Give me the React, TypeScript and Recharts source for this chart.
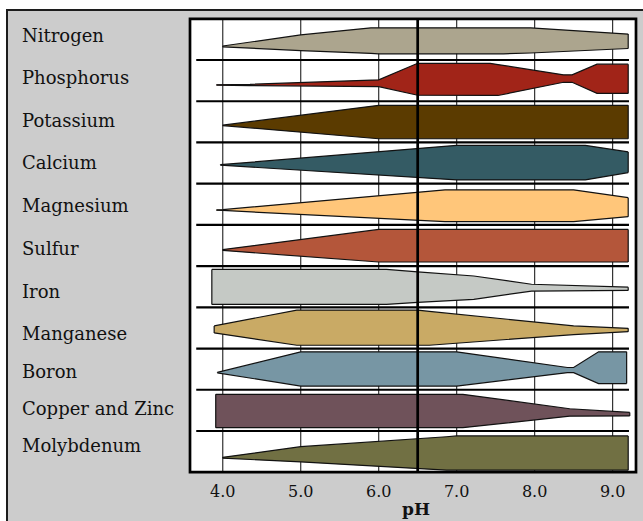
import {
  ComposedChart,
  Area,
  XAxis,
  YAxis,
  CartesianGrid,
  ReferenceLine,
  ReferenceArea,
} from "recharts";

const nutrients = [
  "Nitrogen",
  "Phosphorus",
  "Potassium",
  "Calcium",
  "Magnesium",
  "Sulfur",
  "Iron",
  "Manganese",
  "Boron",
  "Copper and Zinc",
  "Molybdenum",
];

const phTicks = [4, 5, 6, 7, 8, 9];
const optimumPh = 6.5;

// [pH, top edge, bottom edge] - edges in tenths of a row, measured from the row's top
const nitrogen = [[4.0, 6.6, 6.8], [5.0, 3.9, 7.7], [5.9, 2.2, 8.4], [6.0, 2.2, 8.5], [7.6, 2.2, 8.5], [7.95, 2.2, 8.3], [9.2, 3.7, 7.2]];
const phosphorus = [[3.92, 6.0, 6.1], [4.35, 5.9, 6.2], [6.0, 4.8, 6.45], [6.5, 0.8, 8.55], [7.43, 0.8, 8.6], [7.53, 1.1, 8.6], [8.37, 3.6, 5.4], [8.48, 3.6, 5.4], [8.8, 1.0, 8.1], [9.2, 1.0, 8.1]];
const potassium = [[4.0, 5.8, 5.9], [6.0, 1.0, 9.1], [9.2, 1.0, 9.1]];
const calcium = [[3.97, 5.4, 5.5], [7.0, 0.7, 9.1], [8.65, 0.7, 9.1], [9.2, 2.3, 7.3]];
const magnesium = [[3.92, 6.35, 6.45], [4.0, 6.3, 6.5], [6.85, 1.5, 9.2], [8.5, 1.5, 9.2], [9.2, 3.4, 8.0]];
const sulfur = [[4.0, 6.0, 6.2], [6.0, 1.1, 9.0], [9.2, 1.1, 9.0]];
const iron = [[3.86, 0.8, 9.3], [6.1, 0.8, 9.3], [6.5, 1.4, 8.8], [7.22, 2.4, 8.05], [7.96, 4.4, 6.05], [9.2, 5.1, 5.9]];
const manganese = [[3.89, 4.5, 6.2], [4.95, 0.66, 9.2], [6.5, 0.66, 9.2], [6.65, 1.0, 9.2], [8.5, 4.5, 6.6], [9.2, 5.1, 5.9]];
const boron = [[3.93, 5.8, 5.9], [5.0, 0.8, 9.1], [7.0, 0.8, 9.1], [8.42, 4.6, 5.85], [8.5, 4.6, 5.85], [8.82, 0.8, 8.5], [9.18, 0.8, 8.5]];
const copperZinc = [[3.91, 1.1, 9.2], [7.08, 1.1, 9.2], [8.45, 4.6, 6.4], [9.22, 5.5, 6.35]];
const molybdenum = [[4.0, 6.4, 6.6], [5.0, 3.8, 7.5], [6.87, 1.4, 9.5], [7.0, 1.2, 9.5], [9.2, 1.2, 9.5]];

const profiles = [nitrogen, phosphorus, potassium, calcium, magnesium, sulfur, iron, manganese, boron, copperZinc, molybdenum];

const fills = [
  "#aca58e",
  "#a12418",
  "#5b3b00",
  "#345b64",
  "#ffc67a",
  "#b4563a",
  "#c5c9c5",
  "#c9aa65",
  "#7796a4",
  "#6f525a",
  "#717043",
];

// small nudges so the row names sit where the original put them
const labelDy = [3, 3, 5, 6, 7.5, 9, 11.6, 12, 9, 4.6, 0];

const ROW = 10;
const series = profiles.map((pts, i) =>
  pts.map(([ph, top, bottom]) => ({ ph, band: [i * ROW + top, i * ROW + bottom] }))
);
const rowCenters = nutrients.map((_, i) => i * ROW + ROW / 2);
const separators = nutrients.slice(1).map((_, i) => (i + 1) * ROW);

const SERIF = "'DejaVu Serif', serif";

const RowLabel = (props: any) => {
  const { y, payload } = props;
  const i = Math.floor(payload.value / ROW);
  return (
    <text x={22} y={y + labelDy[i]} fontFamily={SERIF} fontSize={18} fill="#111">
      {nutrients[i]}
    </text>
  );
};

const PhTick = (props: any) => {
  const { x, y, payload } = props;
  return (
    <text x={x} y={y + 25} textAnchor="middle" fontFamily={SERIF} fontSize={16} fill="#111">
      {payload.value.toFixed(1)}
    </text>
  );
};

export default function App() {
  return (
    <div style={{ position: "absolute", left: 0, top: 0, width: 643, height: 521, overflow: "hidden", background: "#fff" }}>
      <div
        style={{
          position: "absolute",
          left: 6,
          top: 8.5,
          width: 700,
          height: 600,
          background: "#cccccc",
          border: "2.5px solid #1c1c1c",
        }}
      />
      <ComposedChart
        width={643}
        height={521}
        margin={{ top: 18.8, right: 7, bottom: 0, left: 0 }}
        style={{ position: "absolute", left: 0, top: 0 }}
      >
        <CartesianGrid horizontal={false} fill="#ffffff" fillOpacity={1} stroke="#333" strokeWidth={1.2} />
        <XAxis
          type="number"
          dataKey="ph"
          domain={[3.58, 9.3]}
          ticks={phTicks}
          allowDataOverflow
          axisLine={false}
          tickLine={false}
          tickSize={0}
          tickMargin={0}
          height={48.8}
          tick={<PhTick />}
          label={{
            value: "pH",
            position: "insideBottom",
            offset: 6,
            dx: 3,
            fill: "#111",
            fontSize: 17,
            fontWeight: "bold",
            fontFamily: SERIF,
          }}
        />
        <YAxis
          type="number"
          reversed
          domain={[0, nutrients.length * ROW]}
          ticks={rowCenters}
          axisLine={false}
          tickLine={false}
          width={190}
          tick={<RowLabel />}
        />
        {series.map((pts, i) => (
          <Area
            key={nutrients[i]}
            data={pts}
            dataKey="band"
            type="linear"
            fill={fills[i]}
            fillOpacity={1}
            stroke="#111"
            strokeWidth={1.2}
            dot={false}
            activeDot={false}
            isAnimationActive={false}
          />
        ))}
        {series.map((pts, i) =>
          [pts[0], pts[pts.length - 1]].map((p, j) => (
            <ReferenceLine
              key={`end-${i}-${j}`}
              segment={[{ x: p.ph, y: p.band[0] }, { x: p.ph, y: p.band[1] }]}
              stroke="#111"
              strokeWidth={1.2}
            />
          ))
        )}
        {separators.map((y) => (
          <ReferenceLine
            key={`sep-${y}`}
            segment={[{ x: 3.66, y }, { x: 9.21, y }]}
            stroke="#000"
            strokeWidth={2.2}
          />
        ))}
        <ReferenceLine x={optimumPh} stroke="#000" strokeWidth={2.7} />
        <ReferenceArea
          x1={3.58}
          x2={9.3}
          y1={0}
          y2={nutrients.length * ROW}
          fill="none"
          stroke="#000"
          strokeWidth={2.7}
        />
      </ComposedChart>
    </div>
  );
}
